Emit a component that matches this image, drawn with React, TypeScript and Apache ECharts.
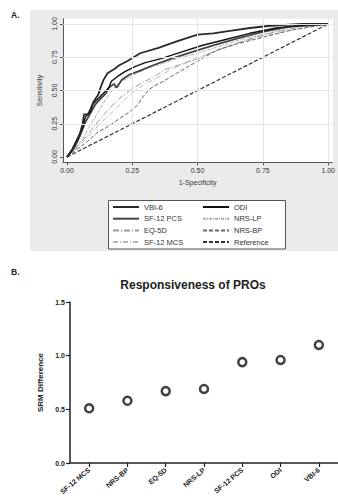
import React, { useEffect, useRef } from "react";
import * as echarts from "echarts";

// ---------- Panel A: ROC curves (1-Specificity, Sensitivity) ----------
const VBI6: number[][] = [[0,0],[0.02,0.05],[0.04,0.12],[0.05,0.18],[0.06,0.25],[0.065,0.32],[0.08,0.32],[0.09,0.36],[0.1,0.41],[0.12,0.47],[0.13,0.53],[0.14,0.58],[0.155,0.63],[0.18,0.66],[0.2,0.69],[0.23,0.72],[0.28,0.78],[0.35,0.82],[0.42,0.87],[0.5,0.92],[0.56,0.93],[0.63,0.95],[0.7,0.97],[0.77,0.985],[0.85,0.995],[0.9,1],[1,1]];
const ODI: number[][] = [[0,0],[0.02,0.06],[0.04,0.14],[0.06,0.22],[0.07,0.3],[0.09,0.34],[0.1,0.4],[0.12,0.44],[0.14,0.48],[0.16,0.52],[0.17,0.57],[0.19,0.6],[0.22,0.64],[0.26,0.68],[0.3,0.71],[0.36,0.74],[0.44,0.79],[0.52,0.84],[0.6,0.88],[0.7,0.93],[0.8,0.97],[0.9,0.99],[1,1]];
const SF12PCS: number[][] = [[0,0],[0.03,0.08],[0.05,0.16],[0.07,0.26],[0.09,0.33],[0.11,0.4],[0.13,0.44],[0.15,0.48],[0.16,0.52],[0.18,0.55],[0.19,0.52],[0.21,0.58],[0.24,0.62],[0.28,0.65],[0.33,0.69],[0.4,0.74],[0.48,0.79],[0.56,0.84],[0.65,0.89],[0.75,0.94],[0.85,0.98],[1,1]];
const NRSLP: number[][] = [[0,0],[0.03,0.06],[0.06,0.14],[0.09,0.24],[0.12,0.34],[0.15,0.44],[0.18,0.52],[0.21,0.57],[0.25,0.61],[0.3,0.66],[0.36,0.7],[0.42,0.74],[0.5,0.78],[0.58,0.83],[0.66,0.88],[0.75,0.92],[0.85,0.97],[1,1]];
const EQ5D: number[][] = [[0,0],[0.04,0.08],[0.08,0.17],[0.12,0.27],[0.16,0.36],[0.2,0.44],[0.24,0.5],[0.28,0.55],[0.33,0.6],[0.38,0.66],[0.44,0.7],[0.5,0.74],[0.57,0.8],[0.64,0.85],[0.72,0.9],[0.8,0.94],[0.9,0.98],[1,1]];
const NRSBP: number[][] = [[0,0],[0.04,0.06],[0.08,0.12],[0.12,0.19],[0.15,0.22],[0.18,0.26],[0.21,0.3],[0.24,0.34],[0.27,0.39],[0.29,0.45],[0.31,0.5],[0.33,0.53],[0.37,0.57],[0.42,0.63],[0.5,0.72],[0.57,0.8],[0.65,0.85],[0.75,0.9],[0.85,0.95],[1,1]];
const SF12MCS: number[][] = [[0,0],[0.05,0.09],[0.09,0.17],[0.13,0.26],[0.17,0.33],[0.2,0.39],[0.23,0.45],[0.26,0.5],[0.3,0.55],[0.35,0.6],[0.4,0.66],[0.46,0.71],[0.52,0.76],[0.6,0.82],[0.68,0.87],[0.76,0.91],[0.85,0.95],[0.93,0.98],[1,1]];
const REFERENCE: number[][] = [[0,0],[1,1]];
const ROC_TICKS = [0, 0.25, 0.5, 0.75, 1];
const GRID_VALUES = [0.25, 0.5, 0.75, 1];

// ---------- Panel B: SRM differences ----------
const PRO_CATEGORIES = ["SF-12 MCS", "NRS-BP", "EQ-5D", "NRS-LP", "SF-12 PCS", "ODI", "VBI-6"];
const SRM_VALUES = [0.51, 0.58, 0.67, 0.69, 0.94, 0.96, 1.1];

const FONT = "'Liberation Sans', Arial, sans-serif";

export default function App() {
  const ref = useRef<HTMLDivElement>(null);
  useEffect(() => {
    if (!ref.current) return;
    const chart = echarts.init(ref.current, undefined, { renderer: "svg" });

    const lineSeries = (name: string, data: number[][], color: string, width: number, type: any) => ({
      name,
      type: "line",
      xAxisIndex: 0,
      yAxisIndex: 0,
      data,
      symbol: "none",
      showSymbol: false,
      lineStyle: { color, width, type },
      itemStyle: { color: "rgba(0,0,0,0)", borderWidth: 0, opacity: 0 },
      z: 3,
    });

    const legendBase = {
      orient: "vertical",
      top: 203,
      padding: 0,
      itemWidth: 26,
      itemHeight: 8,
      itemGap: 3.7,
      itemStyle: { opacity: 0, borderWidth: 0 },
      textStyle: { fontSize: 7.5, lineHeight: 8, color: "#333", fontFamily: FONT },
      z: 5,
    };

    const option: any = {
      animation: false,
      textStyle: { fontFamily: FONT },
      graphic: [
        { type: "rect", z: -2, shape: { x: 30, y: 10, width: 308, height: 241 }, style: { fill: "#ebebeb" } },
        { type: "rect", z: -1, shape: { x: 63, y: 18.7, width: 270, height: 143.6 }, style: { fill: "#ffffff" } },
        { type: "rect", z: 1, shape: { x: 108.5, y: 200.5, width: 177, height: 48.5 }, style: { fill: "#ffffff", stroke: "#555", lineWidth: 1 } },
        { type: "text", x: 11, y: 10, style: { text: "A.", font: `bold 8.5px ${FONT}`, fill: "#222" } },
        { type: "text", x: 11, y: 267, style: { text: "B.", font: `bold 8.5px ${FONT}`, fill: "#222" } },
        { type: "text", x: 193, y: 285, style: { text: "Responsiveness of PROs", font: `bold 12px ${FONT}`, fill: "#222", textAlign: "center", textVerticalAlign: "middle" } },
      ],
      grid: [
        { left: 63, top: 18.68, width: 270, height: 143.64, show: false },
        { left: 70, top: 302, right: 0, height: 161, show: false },
      ],
      xAxis: [
        {
          gridIndex: 0,
          type: "value",
          min: -0.01527,
          max: 1.01527,
          name: "1-Specificity",
          nameLocation: "middle",
          nameGap: 17,
          nameTextStyle: { fontSize: 7, color: "#333", fontFamily: FONT },
          axisLine: { show: true, onZero: false, lineStyle: { color: "#555", width: 1 } },
          axisTick: { show: true, length: 3, customValues: ROC_TICKS, lineStyle: { color: "#555" } },
          axisLabel: { customValues: ROC_TICKS, formatter: (v: number) => v.toFixed(2), fontSize: 7, color: "#333", margin: 5 },
          splitLine: { show: false },
        },
        {
          gridIndex: 1,
          type: "category",
          data: PRO_CATEGORIES,
          boundaryGap: true,
          axisLine: { show: true, lineStyle: { color: "#222", width: 1.5 } },
          axisTick: { show: true, alignWithLabel: true, length: 4, lineStyle: { color: "#222", width: 1.2 } },
          axisLabel: { interval: 0, rotate: 40, fontSize: 7, fontWeight: "bold", color: "#222", margin: 6 },
        },
      ],
      yAxis: [
        {
          gridIndex: 0,
          type: "value",
          min: -0.04,
          max: 1.04,
          name: "Sensitivity",
          nameLocation: "middle",
          nameGap: 20,
          nameTextStyle: { fontSize: 7, color: "#333", fontFamily: FONT },
          axisLine: { show: true, onZero: false, lineStyle: { color: "#555", width: 1 } },
          axisTick: { show: true, length: 3, customValues: ROC_TICKS, lineStyle: { color: "#555" } },
          axisLabel: { customValues: ROC_TICKS, formatter: (v: number) => v.toFixed(2), fontSize: 7, color: "#333", rotate: 90, margin: 5 },
          splitLine: { show: false },
        },
        {
          gridIndex: 1,
          type: "value",
          min: 0,
          max: 1.5,
          interval: 0.5,
          name: "SRM Difference",
          nameLocation: "middle",
          nameGap: 23,
          nameTextStyle: { fontSize: 8, fontWeight: "bold", color: "#222", fontFamily: FONT },
          axisLine: { show: true, lineStyle: { color: "#222", width: 1.5 } },
          axisTick: { show: true, length: 4, lineStyle: { color: "#222", width: 1.2 } },
          axisLabel: { formatter: (v: number) => v.toFixed(1), fontSize: 7, fontWeight: "bold", color: "#222", margin: 5 },
          splitLine: { show: false },
        },
      ],
      legend: [
        { ...legendBase, left: 112, data: ["VBI-6", "SF-12 PCS", "EQ-5D", "SF-12 MCS"] },
        { ...legendBase, left: 202, data: ["ODI", "NRS-LP", "NRS-BP", "Reference"] },
      ],
      series: [
        {
          ...lineSeries("Reference", REFERENCE, "#333", 1.2, [4, 2]),
          z: 2,
          markLine: {
            silent: true,
            symbol: "none",
            label: { show: false },
            lineStyle: { color: "#e4e4e4", width: 1, type: "solid", opacity: 1 },
            data: [
              ...GRID_VALUES.map((v) => ({ xAxis: v })),
              ...GRID_VALUES.map((v) => ({ yAxis: v })),
            ],
          },
        },
        lineSeries("SF-12 MCS", SF12MCS, "#b8b8b8", 1, [5, 2, 1, 2]),
        lineSeries("EQ-5D", EQ5D, "#9a9a9a", 1, [6, 2, 1, 2]),
        lineSeries("NRS-BP", NRSBP, "#666", 1, [4, 2]),
        lineSeries("NRS-LP", NRSLP, "#aaaaaa", 1, [3, 1, 1, 1]),
        lineSeries("SF-12 PCS", SF12PCS, "#444", 1.8, "solid"),
        lineSeries("ODI", ODI, "#111", 1.4, "solid"),
        lineSeries("VBI-6", VBI6, "#2a2a2a", 1.8, "solid"),
        {
          name: "SRM",
          type: "scatter",
          xAxisIndex: 1,
          yAxisIndex: 1,
          data: SRM_VALUES,
          symbol: "circle",
          symbolSize: 8,
          itemStyle: { color: "#fff", borderColor: "#111", borderWidth: 2.5 },
          z: 3,
        },
      ],
    };
    chart.setOption(option);
    return () => chart.dispose();
  }, []);

  return (
    <div
      ref={ref}
      style={{ position: "absolute", left: 0, top: 0, width: 338, height: 504, background: "#fff" }}
    />
  );
}
